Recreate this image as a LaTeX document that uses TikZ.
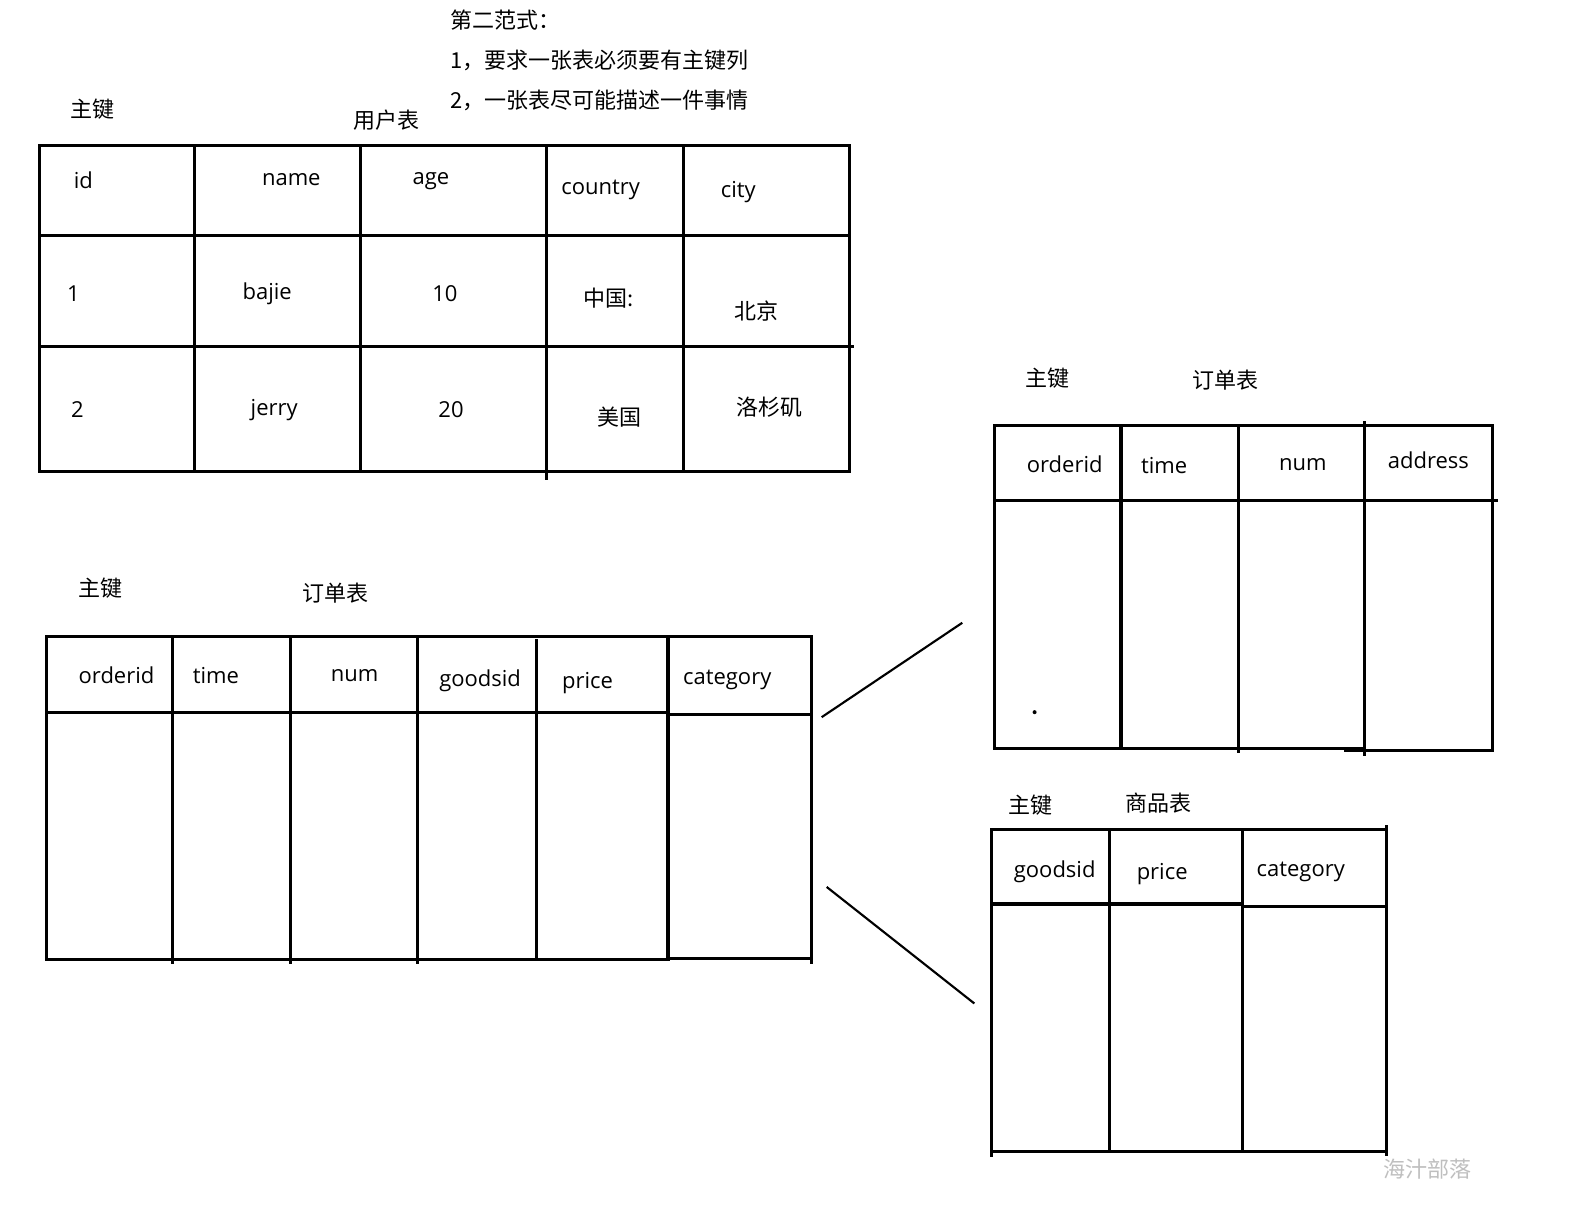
\documentclass[tikz,border=0pt]{standalone}
\usepackage{fontspec}
\setmainfont{Open Sans}
\newfontfamily\cjk{Noto Sans CJK SC}
\begin{document}
\begin{tikzpicture}[x=0.7534pt,y=-0.7534pt,
  tl/.style={line width=2.3pt,line cap=rect},
  lat/.style={font=\fontsize{16.5}{19}\selectfont,inner sep=0pt},
  chn/.style={font=\cjk\fontsize{16.5}{19}\selectfont,inner sep=0pt},
  tlink/.style={line width=1.6pt}]
\useasboundingbox (0,0) rectangle (1568,1212);
\fill[white] (0,0) rectangle (1568,1212);

% top notes
\node[chn,anchor=west] (n0) at (448,20) {第二范式：};
\node[chn,anchor=west] (n1) at (448,60) {1，要求一张表必须要有主键列};
\node[chn,anchor=west] (n2) at (448,100) {2，一张表尽可能描述一件事情};

% ===== 用户表 =====
\node[chn] (k1) at (92,109) {主键};
\node[chn] (t1) at (385,120) {用户表};
\draw[tl] (39,145) rectangle (846,469);
\draw[tl] (39,234) -- (846,234);
\draw[tl] (39,345) -- (849,345);
\draw[tl] (194,145) -- (194,469);
\draw[tl] (359,145) -- (359,469);
\draw[tl] (544,145) -- (544,476);
\draw[tl] (680,145) -- (680,469);
\node[lat] (h1) at (83,179) {id};
\node[lat] (h2) at (290,179) {name};
\node[lat] (h3) at (429,180) {age};
\node[lat] (h4) at (598,189) {country};
\node[lat] (h5) at (735,191) {city};
\node[lat] (r11) at (73,292) {1};
\node[lat] (r12) at (266,292) {bajie};
\node[lat] (r13) at (443,292) {10};
\node[chn] (r14) at (606,297) {中国:};
\node[chn] (r15) at (753,310) {北京};
\node[lat] (r21) at (77,408) {2};
\node[lat] (r22) at (273,408) {jerry};
\node[lat] (r23) at (449,408) {20};
\node[chn] (r24) at (617,415) {美国};
\node[chn] (r25) at (766,405) {洛杉矶};

% ===== 订单表 (left) =====
\node[chn] (k2) at (100,586) {主键};
\node[chn] (t2) at (334,590) {订单表};
\draw[tl] (46,634) -- (808,634);
\draw[tl] (46,634) -- (46,955) -- (665,955);
\draw[tl] (665,954) -- (808,954);
\draw[tl] (808,634) -- (808,958);
\draw[tl] (46,709) -- (665,709);
\draw[tl] (665,711) -- (808,711);
\draw[tl] (172,634) -- (172,958);
\draw[tl] (289,634) -- (289,958);
\draw[tl] (416,634) -- (416,958);
\draw[tl] (534,638) -- (534,955);
\draw[tl] (665,634) -- (665,955);
\node[lat] (o1) at (116,672) {orderid};
\node[lat] (o2) at (215,673) {time};
\node[lat] (o3) at (353,673) {num};
\node[lat] (o4) at (478,678) {goodsid};
\node[lat] (o5) at (585,680) {price};
\node[lat] (o6) at (724,677) {category};

% connectors
\coordinate (a1) at (818,714);
\coordinate (a2) at (958,620);
\coordinate (b1) at (823,883);
\coordinate (b2) at (970,999);
\draw[tlink] (a1) -- (a2);
\draw[tlink] (b1) -- (b2);

% ===== 订单表 (right) =====
\node[chn] (k3) at (1043,376) {主键};
\node[chn] (t3) at (1220,378) {订单表};
\draw[tl] (990,424) -- (1486,424);
\draw[tl] (990,424) -- (990,745) -- (1358,745);
\draw[tl] (1340,747) -- (1486,747);
\draw[tl] (1486,424) -- (1486,747);
\draw[tl] (990,498) -- (1490,498);
\draw[tl] (1116,424) -- (1116,745);
\draw[tl] (1233,424) -- (1233,748);
\draw[tl] (1358,421) -- (1358,751);
\fill (1030,709) circle (2);
\node[lat] (p1) at (1060,462) {orderid};
\node[lat] (p2) at (1159,463) {time};
\node[lat] (p3) at (1297,463) {num};
\node[lat] (p4) at (1422,458) {address};

% ===== 商品表 =====
\node[chn] (k4) at (1026,802) {主键};
\node[chn] (t4) at (1153,800) {商品表};
\draw[tl] (987,826) -- (1380,826);
\draw[tl] (987,826) -- (987,1150);
\draw[tl] (987,1146) -- (1380,1146);
\draw[tl] (1380,823) -- (1380,1149);
\draw[tl] (987,900) -- (1237,900);
\draw[tl] (1237,902) -- (1380,902);
\draw[tl] (1105,829) -- (1105,1146);
\draw[tl] (1237,826) -- (1237,1146);
\node[lat] (g1) at (1050,868) {goodsid};
\node[lat] (g2) at (1157,870) {price};
\node[lat] (g3) at (1295,868) {category};

\node[chn,text=black!25] (wm) at (1421,1164) {海汁部落};
\end{tikzpicture}
\end{document}
